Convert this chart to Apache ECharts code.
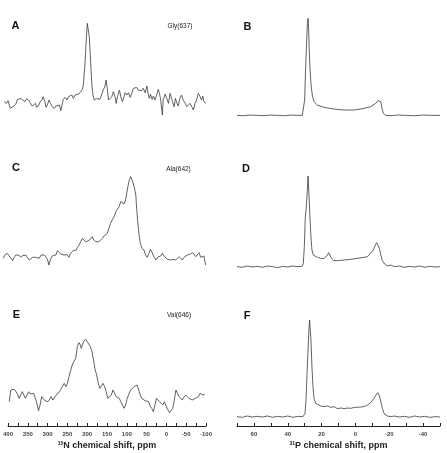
<!DOCTYPE html>
<html>
<head>
<meta charset="utf-8">
<script src="https://cdn.jsdelivr.net/npm/echarts@6/dist/echarts.min.js"></script>
<style>
  html, body { margin: 0; padding: 0; background: #fff; }
  #myid { width: 447px; height: 453px; }
</style>
</head>
<body>
<div id="myid"></div>
<script>
// 15N spectra, [ppm, intensity a.u.]
const glyN = [[395,45],[389,40],[385,48],[380,25],[376,20],[371,32],[366,38],[362,52],[358,48],[353,54],[349,50],[344,45],[340,54],[335,50],[331,42],[326,32],[323,38],[318,40],[315,28],[310,35],[307,44],[302,50],[299,60],[295,45],[292,28],[288,38],[285,50],[281,40],[277,30],[272,25],[268,32],[264,28],[259,35],[256,18],[252,40],[250,52],[245,58],[241,50],[237,60],[233,54],[229,65],[225,55],[221,65],[217,60],[212,68],[209,65],[204,80],[201,92],[197,150],[194,220],[191,280],[188,282],[186,240],[183,170],[180,100],[177,65],[174,50],[170,45],[168,55],[164,50],[160,52],[156,65],[152,80],[148,90],[145,110],[142,85],[139,50],[135,45],[131,60],[127,75],[123,60],[120,40],[117,60],[112,80],[109,60],[105,45],[101,60],[98,72],[94,65],[90,72],[86,58],[82,70],[78,85],[74,80],[70,88],[66,80],[62,85],[58,78],[54,85],[49,72],[45,92],[42,70],[39,55],[36,67],[32,52],[29,62],[25,50],[21,65],[17,82],[14,70],[11,50],[7,5],[5,50],[0,68],[-4,55],[-8,40],[-12,70],[-15,75],[-18,45],[-22,30],[-25,55],[-29,40],[-32,32],[-36,55],[-40,65],[-44,50],[-49,40],[-53,30],[-57,25],[-61,40],[-65,35],[-69,20],[-73,40],[-77,50],[-81,70],[-85,62],[-89,50],[-92,62],[-95,45],[-100,40]];

const alaN = [[397,35],[393,45],[387,50],[382,42],[378,38],[374,28],[370,38],[366,45],[362,40],[358,44],[354,38],[349,44],[345,48],[341,44],[338,38],[333,30],[329,32],[325,38],[321,32],[317,38],[313,42],[309,35],[304,45],[300,50],[296,45],[292,38],[288,30],[285,15],[281,32],[277,42],[273,38],[268,45],[264,58],[260,52],[256,48],[252,45],[248,45],[244,42],[240,46],[236,38],[232,50],[228,55],[224,60],[219,58],[215,68],[211,75],[207,85],[203,95],[199,90],[195,85],[191,82],[187,88],[183,88],[179,100],[175,90],[170,85],[166,80],[162,85],[158,90],[154,95],[150,102],[146,105],[142,110],[138,125],[134,140],[130,150],[125,160],[121,175],[117,180],[113,190],[109,205],[105,202],[101,198],[97,210],[93,240],[89,265],[85,280],[81,270],[76,250],[72,225],[70,185],[67,140],[64,105],[61,80],[57,65],[52,60],[48,45],[44,38],[40,50],[36,62],[32,52],[27,38],[23,30],[19,38],[15,35],[11,42],[7,50],[3,42],[-1,38],[-5,32],[-9,35],[-13,30],[-18,32],[-22,38],[-26,30],[-30,35],[-34,40],[-38,34],[-42,30],[-46,38],[-50,42],[-54,45],[-58,48],[-62,48],[-67,52],[-71,46],[-75,40],[-79,45],[-83,52],[-87,38],[-91,35],[-95,42],[-99,15]];

const valN = [[397,45],[393,80],[389,85],[384,82],[380,78],[376,68],[372,55],[368,65],[364,75],[360,70],[356,55],[352,65],[348,75],[344,68],[340,72],[335,70],[331,68],[327,40],[323,18],[319,35],[315,60],[311,55],[307,48],[303,50],[299,45],[295,52],[291,60],[287,50],[282,55],[278,65],[274,70],[270,75],[266,80],[262,92],[258,100],[254,90],[250,100],[246,120],[241,142],[237,158],[233,155],[229,175],[225,210],[221,222],[217,215],[215,205],[212,210],[209,225],[204,232],[200,225],[197,220],[192,210],[188,195],[184,170],[180,140],[176,125],[172,100],[168,85],[164,90],[160,100],[156,90],[152,75],[148,55],[143,50],[139,65],[135,80],[131,70],[127,60],[123,62],[119,55],[115,50],[111,35],[107,25],[103,35],[99,55],[94,70],[90,80],[86,85],[82,90],[78,95],[74,95],[70,80],[66,65],[62,55],[58,50],[54,48],[50,50],[45,45],[41,32],[37,25],[33,15],[29,20],[25,55],[21,50],[17,45],[13,50],[9,35],[5,45],[0,30],[-4,20],[-8,12],[-12,15],[-16,25],[-20,50],[-24,80],[-28,75],[-32,60],[-36,55],[-40,50],[-44,58],[-49,65],[-53,60],[-57,55],[-61,55],[-65,50],[-69,52],[-73,55],[-77,55],[-81,60],[-85,70],[-89,65],[-93,65],[-97,67]];

// 31P spectra, [ppm, intensity a.u.]
const glyP = [[70,4],[66,3],[62,5],[58,4],[54,3],[50,5],[46,4],[42,3],[38,5],[34,4],[31.4,4],[30.8,10],[30,50],[29.4,150],[28.8,230],[28.4,280],[28,295],[27.7,270],[27.3,200],[26.9,150],[26.3,100],[25.5,65],[24.5,45],[22.5,35],[18.6,28],[12.7,23],[6.7,20],[0.8,20],[-5.1,25],[-9,30],[-12,40],[-13.4,48],[-14.4,54],[-15,45],[-15.7,25],[-16.5,10],[-17.9,4],[-21,3],[-25,5],[-30,4],[-35,3],[-40,5],[-45,4],[-50,4]];

const alaP = [[70,10],[67,8],[64,12],[61,9],[58,11],[55,8],[52,12],[49,10],[46,7],[43,11],[40,9],[37,12],[34,10],[31.5,11],[30.8,20],[30.2,70],[29.6,160],[29,190],[28.4,240],[28,282],[27.7,280],[27.3,210],[26.9,160],[26.3,100],[25.7,60],[24.9,45],[24.1,40],[22.5,38],[20.6,35],[18.6,34],[17.6,35],[16.6,45],[15.8,52],[15,48],[14.2,35],[12.7,28],[10.7,28],[6.7,30],[2.8,32],[-1.1,35],[-5.1,38],[-7.1,40],[-9,50],[-10.6,60],[-11.8,75],[-12.6,82],[-13.4,78],[-14.2,65],[-15,45],[-15.9,28],[-17.3,18],[-18.9,12],[-20.9,15],[-23,10],[-26,12],[-29,8],[-32,11],[-35,9],[-38,12],[-41,8],[-44,11],[-47,9],[-50,10]];

const valP = [[70,10],[67,8],[64,12],[61,9],[58,11],[55,9],[52,12],[49,8],[46,11],[43,9],[40,12],[37,8],[34,11],[31,10],[29.8,20],[29.2,60],[28.6,140],[28,210],[27.5,270],[27.1,300],[26.7,295],[26.3,240],[25.7,160],[25.1,100],[24.5,65],[23.5,50],[22.5,45],[20.6,42],[18.6,40],[16.5,42],[14.6,38],[12.5,40],[10.7,34],[8.5,36],[6.7,34],[4.5,36],[2.8,35],[0.5,38],[-1.1,38],[-3,39],[-5.1,40],[-7.1,45],[-9,52],[-11,65],[-12.2,75],[-13.2,82],[-14,75],[-15,55],[-15.9,35],[-16.9,20],[-18.9,12],[-20.9,10],[-23,12],[-26,9],[-29,11],[-32,8],[-35,12],[-38,9],[-41,11],[-44,8],[-47,10],[-50,9]];

// tick labels
const nTicks = [400, 350, 300, 250, 200, 150, 100, 50, 0, -50, -100];
const pTicks = [60, 40, 20, 0, -20, -40];

const letters = ['A', 'B', 'C', 'D', 'E', 'F'];
const residues = ['Gly(637)', 'Ala(642)', 'Val(646)'];

let chart = echarts.init(document.getElementById('myid'));

const spectra = [glyN, glyP, alaN, alaP, valN, valP];

// panel boxes (px)
const grids = [
  { left: 2, width: 204, top: 16.7, height: 100 },
  { left: 237, width: 203, top: 16.7, height: 100 },
  { left: 2, width: 204, top: 170, height: 100 },
  { left: 237, width: 203, top: 170, height: 100 },
  { left: 2, width: 204, top: 330, height: 96 },
  { left: 237, width: 203, top: 320, height: 106 }
];
const yRange = [[0, 300], [0, 300], [0, 300], [0, 300], [-28, 260], [-18, 300]];

const xAxes = grids.map((g, i) => {
  const isN = i % 2 === 0;
  const bottom = i >= 4;
  return {
    type: 'value',
    gridIndex: i,
    inverse: true,
    min: isN ? -100 : -50,
    max: isN ? 400 : 70,
    interval: isN ? 25 : 10,
    show: bottom,
    axisLine: { show: true, onZero: false, lineStyle: { color: '#222', width: 1 } },
    axisTick: { show: true, inside: true, length: 3, lineStyle: { color: '#222' } },
    splitLine: { show: false },
    axisLabel: {
      show: true,
      fontSize: 6,
      fontWeight: 'bold',
      color: '#444',
      margin: 5,
      fontFamily: 'Liberation Sans',
      formatter: function (v) {
        const list = isN ? nTicks : pTicks;
        return list.indexOf(v) >= 0 ? String(v) : '';
      }
    },
    name: isN ? '{s|15}{b|N chemical shift, ppm}' : '{s|31}{b|P chemical shift, ppm}',
    nameLocation: 'middle',
    nameGap: 15,
    nameTextStyle: {
      rich: {
        s: { fontSize: 5, fontWeight: 'bold', color: '#222', fontFamily: 'Liberation Sans', padding: [0, 0, 5, 0] },
        b: { fontSize: 9, fontWeight: 'bold', color: '#222', fontFamily: 'Liberation Sans' }
      }
    }
  };
});

const yAxes = grids.map((g, i) => ({
  type: 'value',
  gridIndex: i,
  min: yRange[i][0],
  max: yRange[i][1],
  show: false,
  splitLine: { show: false }
}));

const series = spectra.map((d, i) => ({
  type: 'line',
  xAxisIndex: i,
  yAxisIndex: i,
  data: d,
  symbol: 'none',
  smooth: false,
  lineStyle: { color: '#3a3a3a', width: 0.8 },
  animation: false
}));

// panel letters and residue tags
const letterPos = [[15.5, 25.5], [247.5, 27], [16, 168], [246, 168.7], [16.3, 315], [247, 316]];
const tagPos = [[180, 26], [178.5, 169.7], [179, 315]];
const graphic = [];
letters.forEach((t, i) => {
  graphic.push({
    type: 'text', x: letterPos[i][0], y: letterPos[i][1],
    style: { text: t, font: 'bold 11px "Liberation Sans"', fill: '#111', align: 'center', verticalAlign: 'middle' }
  });
});
residues.forEach((t, i) => {
  graphic.push({
    type: 'text', x: tagPos[i][0], y: tagPos[i][1],
    style: { text: t, font: '6.5px "Liberation Sans"', fill: '#222', align: 'center', verticalAlign: 'middle' }
  });
});

chart.setOption({
  animation: false,
  backgroundColor: '#fff',
  grid: grids.map(g => Object.assign({ show: false, containLabel: false }, g)),
  xAxis: xAxes,
  yAxis: yAxes,
  series: series,
  graphic: graphic
});
</script>
</body>
</html>
